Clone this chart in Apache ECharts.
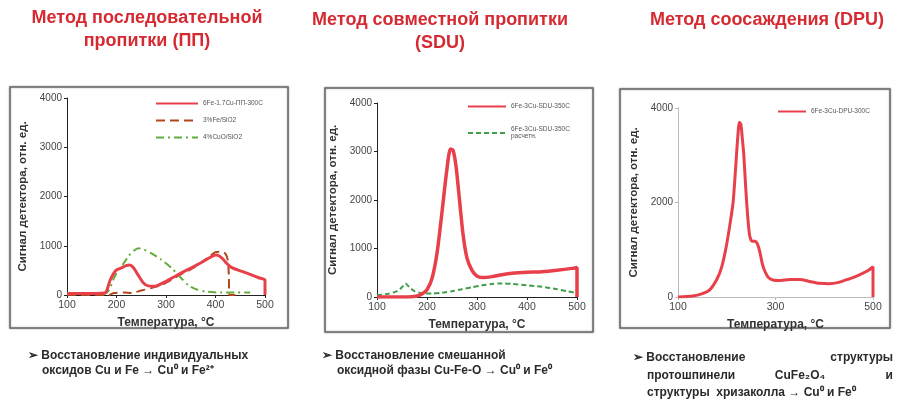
<!DOCTYPE html>
<html>
<head>
<meta charset="utf-8">
<script src="https://cdn.jsdelivr.net/npm/echarts@6/dist/echarts.min.js"></script>
<style>
  html, body { margin: 0; padding: 0; background: #ffffff; }
  #chart { width: 898px; height: 400px; }
</style>
</head>
<body>
<div id="chart"></div>
<script>
// TPR profiles: detector signal (rel. units) vs temperature (°C)

// Panel 1 — sequential impregnation
const ppTemp = [100, 150, 175, 180, 187, 195, 200, 210, 218, 226, 234, 244, 254, 264, 278, 295, 315, 335, 355, 375, 392, 402, 412, 422, 432, 450, 470, 487, 500, 500];
const ppSignal = [30, 30, 40, 80, 300, 450, 510, 550, 590, 610, 560, 400, 250, 185, 180, 250, 360, 470, 570, 680, 780, 810, 760, 650, 560, 490, 420, 350, 300, 0];
const feTemp = [100, 185, 195, 215, 230, 250, 270, 290, 310, 330, 350, 370, 385, 400, 412, 420, 425, 427, 428, 440];
const feSignal = [0, 0, 40, 50, 40, 90, 140, 200, 300, 420, 520, 650, 760, 870, 880, 840, 700, 380, 0, 0];
const cuTemp = [100, 175, 185, 195, 205, 215, 225, 235, 244, 255, 270, 290, 310, 330, 345, 360, 380, 410, 440, 470];
const cuSignal = [20, 20, 100, 350, 520, 650, 800, 900, 950, 920, 850, 720, 560, 350, 200, 120, 70, 50, 50, 50];

// Panel 2 — co-impregnation
const sduTemp = [100, 160, 180, 190, 200, 210, 220, 230, 240, 247, 252, 258, 265, 272, 280, 290, 300, 310, 330, 350, 370, 400, 430, 460, 490, 500, 500];
const sduSignal = [0, 0, 20, 60, 150, 380, 900, 1750, 2650, 3050, 3030, 2700, 2000, 1300, 800, 550, 430, 400, 420, 460, 490, 510, 520, 550, 590, 610, 0];
const sduCalcTemp = [100, 120, 140, 150, 157, 165, 175, 190, 210, 230, 250, 270, 290, 310, 330, 350, 370, 400, 430, 460, 480, 500];
const sduCalcSignal = [40, 60, 120, 200, 280, 200, 120, 80, 70, 90, 120, 160, 200, 240, 270, 280, 270, 240, 210, 160, 120, 80];

// Panel 3 — deposition-precipitation
const dpuTemp = [100, 130, 150, 165, 180, 190, 199, 206, 213, 218, 222, 226, 229, 232, 235, 239, 243, 247, 252, 258, 263, 268, 273, 278, 285, 295, 310, 330, 350, 370, 390, 410, 430, 450, 470, 490, 500, 500];
const dpuSignal = [0, 20, 70, 150, 380, 650, 1070, 1500, 2000, 2700, 3300, 3700, 3650, 3350, 3000, 2300, 1700, 1300, 1180, 1180, 1120, 950, 700, 550, 420, 360, 350, 370, 370, 330, 290, 280, 310, 380, 460, 560, 640, 0];

const seriesNames = {
  pp: '6Fe-1.7Cu-ПП-300С',
  fe: '3%Fe/SiO2',
  cu: '4%CuO/SiO2',
  sdu: '6Fe-3Cu-SDU-350С',
  sduCalc: '6Fe-3Cu-SDU-350С\nрасчетн.',
  dpu: '6Fe-3Cu-DPU-300С'
};

const yName = 'Сигнал детектора, отн. ед.';
const xName = 'Температура, °С';
const FONT = '"Liberation Sans", Arial, sans-serif';

function pairs(xs, ys) { return xs.map((x, i) => [x, ys[i]]); }

const chart = echarts.init(document.getElementById('chart'), null, { renderer: 'canvas' });

const grids = [
  { left: 67, top: 98, width: 198, height: 197 },
  { left: 377, top: 103, width: 200, height: 194 },
  { left: 678, top: 108, width: 195, height: 189 }
];

const plain = v => String(v);

function xAxisFor(idx, interval, axisColor) {
  return {
    type: 'value', gridIndex: idx, min: 100, max: 500, interval: interval,
    name: xName, nameLocation: 'middle', nameGap: 22,
    nameTextStyle: { fontFamily: FONT, fontSize: 12, fontWeight: 'bold', color: '#333' },
    axisLine: { show: true, lineStyle: { color: axisColor, width: 1 } },
    axisTick: { show: true, length: 3, lineStyle: { color: axisColor } },
    axisLabel: { fontFamily: FONT, fontSize: 10.5, color: '#444', margin: 5, formatter: plain },
    splitLine: { show: false }
  };
}
function yAxisFor(idx, interval, axisColor) {
  return {
    type: 'value', gridIndex: idx, min: 0, max: 4000, interval: interval,
    name: yName, nameLocation: 'middle', nameGap: 38,
    nameTextStyle: { fontFamily: FONT, fontSize: 11.5, fontWeight: 'bold', color: '#333' },
    axisLine: { show: true, lineStyle: { color: axisColor, width: 1 } },
    axisTick: { show: true, length: 3, lineStyle: { color: axisColor } },
    axisLabel: { fontFamily: FONT, fontSize: 10, color: '#444', margin: 5, formatter: plain },
    splitLine: { show: false }
  };
}

function lineSeries(name, idx, data, color, width, type) {
  return {
    name: name, type: 'line', xAxisIndex: idx, yAxisIndex: idx,
    data: data, symbol: 'none', smooth: 0.25, animation: false,
    lineStyle: { color: color, width: width, type: type },
    itemStyle: { color: color }
  };
}

const red = '#e8404a';

function frame(x, y, w, h) {
  return {
    type: 'rect', shape: { x: x, y: y, width: w, height: h }, z: -1,
    style: { fill: '#fff', stroke: '#6a6a6a', lineWidth: 1.5, shadowBlur: 2, shadowColor: 'rgba(0,0,0,0.35)' }
  };
}
function titleText(text, cx, y) {
  return {
    type: 'text', x: cx, y: y,
    style: { text: text, align: 'center', verticalAlign: 'middle', fill: '#d62a32',
             font: 'bold 18px ' + FONT }
  };
}
function noteText(text, x, y, align) {
  return {
    type: 'text', x: x, y: y,
    style: { text: text, align: align || 'left', verticalAlign: 'middle', fill: '#2a2a2a',
             font: 'bold 12px ' + FONT }
  };
}

const legendText = { fontFamily: FONT, fontSize: 6.5, color: '#555' };
// legend keys show only the line stroke, no marker
const legendKey = { opacity: 0 };

chart.setOption({
  backgroundColor: '#ffffff',
  animation: false,
  grid: grids,
  xAxis: [xAxisFor(0, 100, '#222'), xAxisFor(1, 100, '#222'), xAxisFor(2, 200, '#bdbdbd')],
  yAxis: [yAxisFor(0, 1000, '#222'), yAxisFor(1, 1000, '#222'), yAxisFor(2, 2000, '#bdbdbd')],
  legend: [
    { data: [seriesNames.pp, seriesNames.fe, seriesNames.cu], orient: 'vertical', left: 150, top: 95,
      itemWidth: 42, itemHeight: 6, itemGap: 10, textStyle: legendText, itemStyle: legendKey },
    { data: [seriesNames.sdu, seriesNames.sduCalc], orient: 'vertical', left: 462, top: 98,
      itemWidth: 38, itemHeight: 6, itemGap: 16, textStyle: legendText, itemStyle: legendKey },
    { data: [seriesNames.dpu], orient: 'vertical', left: 772, top: 103,
      itemWidth: 28, itemHeight: 6, itemGap: 10, textStyle: legendText, itemStyle: legendKey }
  ],
  series: [
    lineSeries(seriesNames.fe, 0, pairs(feTemp, feSignal), '#b4461e', 2, [9, 5]),
    lineSeries(seriesNames.cu, 0, pairs(cuTemp, cuSignal), '#62ad38', 2, [8, 4, 2, 4]),
    lineSeries(seriesNames.pp, 0, pairs(ppTemp, ppSignal), red, 3),
    lineSeries(seriesNames.sduCalc, 1, pairs(sduCalcTemp, sduCalcSignal), '#3f9e4c', 2, [5, 3]),
    lineSeries(seriesNames.sdu, 1, pairs(sduTemp, sduSignal), red, 3.5),
    lineSeries(seriesNames.dpu, 2, pairs(dpuTemp, dpuSignal), red, 3)
  ],
  graphic: [
    frame(10, 87, 278, 241),
    frame(325, 88, 268, 244),
    frame(620, 89, 270, 239),
    titleText('Метод последовательной', 147, 18),
    titleText('пропитки (ПП)', 147, 41),
    titleText('Метод совместной пропитки', 440, 20),
    titleText('(SDU)', 440, 43),
    titleText('Метод соосаждения (DPU)', 767, 20),
    noteText('➢ Восстановление индивидуальных', 28, 356),
    noteText('оксидов Cu и Fe → Cu⁰ и Fe²⁺', 42, 371),
    noteText('➢ Восстановление смешанной', 322, 356),
    noteText('оксидной фазы Cu-Fe-O → Cu⁰ и Fe⁰', 337, 371),
    noteText('➢ Восстановление', 633, 358),
    noteText('структуры', 893, 358, 'right'),
    noteText('протошпинели', 647, 376),
    noteText('CuFe₂O₄', 800, 376, 'center'),
    noteText('и', 893, 376, 'right'),
    noteText('структуры  хризаколла → Cu⁰ и Fe⁰', 647, 393)
  ]
});
</script>
</body>
</html>
